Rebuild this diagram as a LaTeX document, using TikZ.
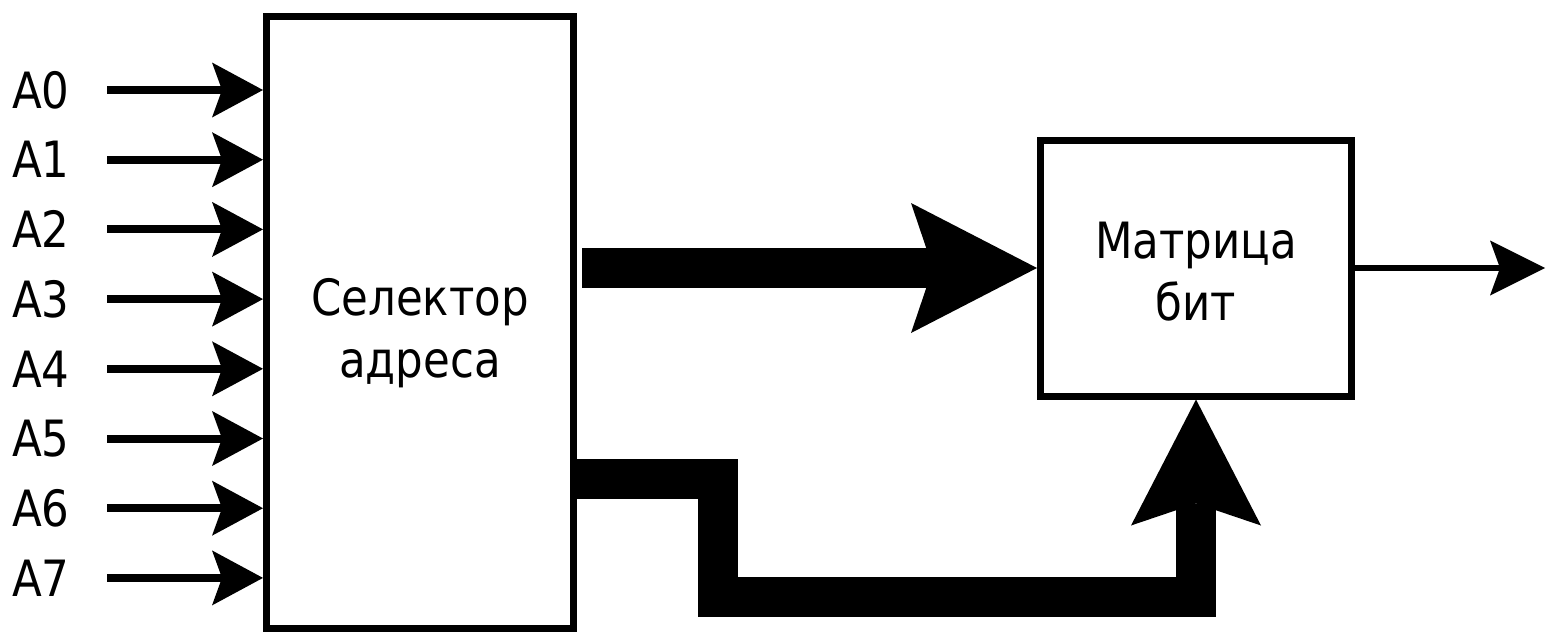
\documentclass[tikz,border=0pt]{standalone}
\usepackage{fontspec}
\setmainfont{DejaVu Sans}[FakeStretch=0.87]
\usetikzlibrary{arrows.meta}
\begin{document}
\begin{tikzpicture}[x=1pt,y=-1pt,
  block/.style={draw, line width=7pt, inner sep=0pt},
  boxtext/.style={inner sep=0pt, align=center,
    font=\fontsize{50}{62}\selectfont},
  lbl/.style={anchor=west, inner sep=0pt, text width=58pt, align=left,
    font=\fontsize{50}{62}\selectfont},
  inarrow/.style={line width=8pt, shorten <=37pt,
    -{Stealth[length=51pt, width=55pt, inset=10pt, line width=0pt]}},
  bus/.style={line width=40pt, line join=miter,
    -{Stealth[length=126pt, width=130pt, inset=22pt, line width=0pt]}},
  outarrow/.style={line width=6pt,
    -{Stealth[length=55pt, width=55pt, inset=10pt, line width=0pt]}}
]
\useasboundingbox (0,0) rectangle (1550,633);

\node[block, minimum width=307pt, minimum height=612pt] (sel) at (420,322) {};
\node[boxtext] (seltxt) at ([yshift=-11pt]sel.center) {Селектор\\адреса};
\node[block, minimum width=311pt, minimum height=256pt] (mat) at (1196,268) {};
\node[boxtext] (mattxt) at ([yshift=-4pt]mat.center) {Матрица\\бит};

\foreach \i/\y in {0/90,1/159.7,2/229.4,3/299.1,4/368.8,5/438.5,6/508.2,7/577.9} {
  \node[lbl] (a\i) at (12,\y) {A\i};
  \draw[inarrow] (a\i.east) -- (a\i.east -| sel.west);
}

\draw[bus, shorten <=5pt] (sel.east |- mat.west) -- (mat.west);
\draw[bus] (sel.east |- 0,479) -- (718,479) -- (718,597) -| (mat.south);

\coordinate (out) at (1545,268);
\draw[outarrow] (mat.east) -- (out);
\end{tikzpicture}
\end{document}
